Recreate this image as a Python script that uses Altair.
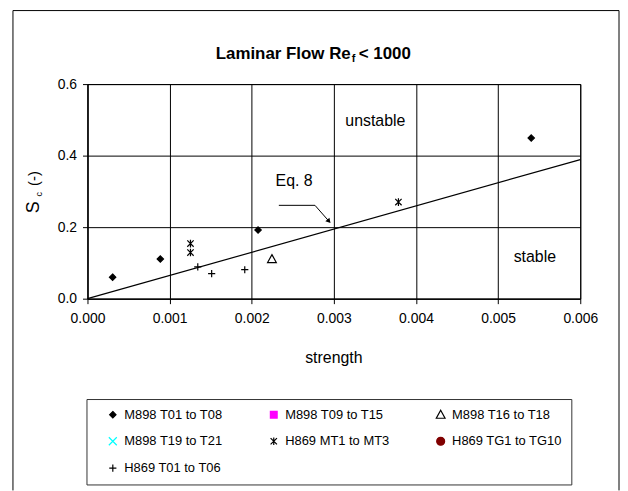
import altair as alt
import pandas as pd

FONT = "Liberation Sans"

# ---- data ----
series_names = ["M898 T01 to T08", "M898 T09 to T15", "M898 T16 to T18",
                "M898 T19 to T21", "H869 MT1 to MT3", "H869 TG1 to TG10",
                "H869 T01 to T06"]

m898_t01_x = [0.000306, 0.000887, 0.002077, 0.005403]
m898_t01_y = [0.060, 0.111, 0.192, 0.449]
m898_t16_x = [0.002246]
m898_t16_y = [0.111]
h869_mt_x = [0.001254, 0.001254, 0.003786]
h869_mt_y = [0.154, 0.129, 0.270]
h869_t_x = [0.001343, 0.001512, 0.001915]
h869_t_y = [0.089, 0.070, 0.081]

eq8_x = [0.0, 0.006]
eq8_y = [0.0, 0.389]

arrow_x = [0.00233, 0.00277, 0.00294]
arrow_y = [0.261, 0.261, 0.2166]

x_ticks = [0.0, 0.001, 0.002, 0.003, 0.004, 0.005, 0.006]
y_ticks = [0.0, 0.2, 0.4, 0.6]

notes_text = ["Eq. 8", "unstable", "stable"]
notes_x = [0.002516, 0.003505, 0.005447]
notes_y = [0.328, 0.498, 0.1175]

# ---- styling ----
shape_range = ["M0,-0.8L0.8,0L0,0.8L-0.8,0Z",
               "M-0.85,-0.85L0.85,-0.85L0.85,0.85L-0.85,0.85Z",
               "M0,-1.1L1.1,0.9L-1.1,0.9Z",
               "M-1,-1L1,1M1,-1L-1,1",
               "M-0.8,-0.8L0.8,0.8M0.8,-0.8L-0.8,0.8M0,-0.95L0,0.95",
               "circle",
               "M-0.9,0L0.9,0M0,-0.9L0,0.9"]
fill_range = ["black", "#FF00FF", "transparent", "transparent", "transparent", "#800000", "transparent"]
stroke_range = ["black", "#FF00FF", "black", "#00FFFF", "black", "#800000", "black"]

rows = []
for n, xs, ys in [(series_names[0], m898_t01_x, m898_t01_y),
                  (series_names[2], m898_t16_x, m898_t16_y),
                  (series_names[4], h869_mt_x, h869_mt_y),
                  (series_names[6], h869_t_x, h869_t_y)]:
    for a, b in zip(xs, ys):
        rows.append({"x": a, "y": b, "series": n})
points_df = pd.DataFrame(rows)

xscale = alt.Scale(domain=[0, 0.006], nice=False, zero=False)
yscale = alt.Scale(domain=[0, 0.6], nice=False)
xaxis = alt.Axis(values=x_ticks, format=".3f", title=None, tickSize=5,
                 labelPadding=8, labelFlush=False, labelOverlap=False)
yaxis = alt.Axis(values=y_ticks, format=".1f", title=None, tickSize=5,
                 labelPadding=6, labelFlush=False, labelOverlap=False)

leg = alt.Legend(title=None, orient="none", legendX=-1, legendY=317, columns=3,
                 direction="horizontal",
                 padding=9, strokeColor="#333333", fillColor="white",
                 labelFont=FONT, labelFontSize=13, labelColor="black",
                 rowPadding=13, columnPadding=34, symbolOffset=11,
                 labelOffset=5, symbolSize=64, symbolStrokeWidth=1.2,
                 labelLimit=300)

pts = alt.Chart(points_df).mark_point(size=64, strokeWidth=1.2, opacity=1).encode(
    x=alt.X("x:Q", scale=xscale, axis=xaxis),
    y=alt.Y("y:Q", scale=yscale, axis=yaxis),
    shape=alt.Shape("series:N", scale=alt.Scale(domain=series_names, range=shape_range), legend=leg),
    fill=alt.Fill("series:N", scale=alt.Scale(domain=series_names, range=fill_range), legend=leg),
    stroke=alt.Stroke("series:N", scale=alt.Scale(domain=series_names, range=stroke_range), legend=leg),
)

eq_line = alt.Chart(pd.DataFrame({"x": eq8_x, "y": eq8_y})).mark_line(
    color="black", strokeWidth=1.2).encode(
    x=alt.X("x:Q", scale=xscale), y=alt.Y("y:Q", scale=yscale))

arrow_df = pd.DataFrame({"x": arrow_x, "y": arrow_y, "o": list(range(len(arrow_x)))})
arrow_line = alt.Chart(arrow_df).mark_line(color="black", strokeWidth=1).encode(
    x=alt.X("x:Q", scale=xscale), y=alt.Y("y:Q", scale=yscale), order="o:O")
arrow_head = alt.Chart(arrow_df.tail(1)).mark_point(
    shape="triangle-up", filled=True, color="black", size=30, angle=139, opacity=1).encode(
    x=alt.X("x:Q", scale=xscale), y=alt.Y("y:Q", scale=yscale))

notes = alt.Chart(pd.DataFrame({"x": notes_x, "y": notes_y, "t": notes_text})).mark_text(
    font=FONT, fontSize=16, color="black", align="center", baseline="middle").encode(
    x=alt.X("x:Q", scale=xscale), y=alt.Y("y:Q", scale=yscale), text="t:N")

one = pd.DataFrame({"a": [0]})

def label(text, x, y, size, weight="normal", align="center", angle=0, baseline="middle"):
    kw = dict(font=FONT, fontSize=size, fontWeight=weight, color="black",
              align=align, baseline=baseline, text=text)
    if angle:
        kw["angle"] = angle
    return alt.Chart(one).mark_text(**kw).encode(x=alt.value(x), y=alt.value(y))

title_parts = [
    label("Laminar Flow Re", 265, -25, 17, "bold", "right", baseline="alphabetic"),
    label("f", 266, -22, 11, "bold", "left", baseline="alphabetic"),
    label("< 1000", 273, -25, 17, "bold", "left", baseline="alphabetic"),
]
y_title = [
    label("S", -54, 124, 18, angle=270),
    label("c", -49, 111, 9, angle=270),
    label("(-)", -54, 95, 15, angle=270),
]
x_title = [label("strength", 248, 276, 16)]

frame = [
    alt.Chart(one).mark_rule(color="black", strokeWidth=1).encode(
        x=alt.value(-75), y=alt.value(-74), y2=alt.value(409)),
    alt.Chart(one).mark_rule(color="black", strokeWidth=1).encode(
        x=alt.value(535), y=alt.value(-74), y2=alt.value(409)),
    alt.Chart(one).mark_rule(color="black", strokeWidth=1).encode(
        x=alt.value(-75), x2=alt.value(535), y=alt.value(-74)),
]

chart = alt.layer(
    eq_line, arrow_line, arrow_head, pts, notes, *title_parts, *y_title, *x_title, *frame
).properties(
    width=496, height=216,
    padding={"left": 4, "top": 0, "right": 0, "bottom": 0},
).configure_view(
    stroke="black", strokeWidth=1
).configure_axis(
    gridColor="black", gridOpacity=1, gridWidth=1,
    domainColor="black", tickColor="black",
    labelColor="black", labelFont=FONT, labelFontSize=14,
)

chart.save("out.html", embed_options={"renderer": "svg", "actions": False})
